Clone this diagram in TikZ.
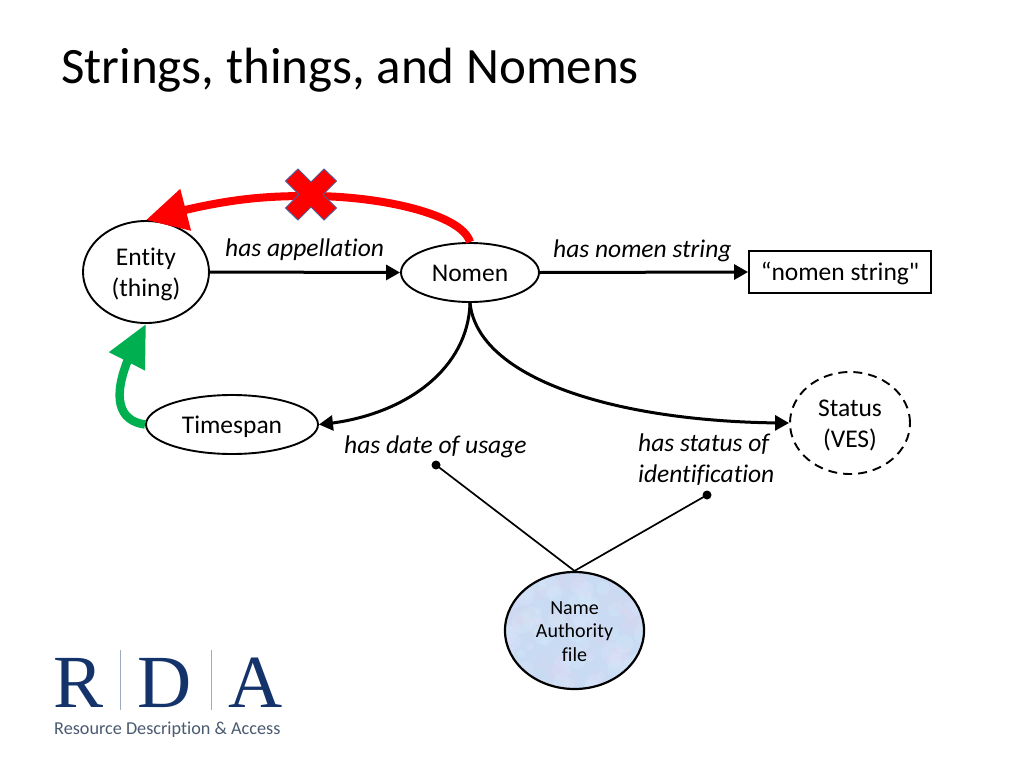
\documentclass[tikz,border=0pt]{standalone}
\usepackage{fontspec}
\setmainfont[Ligatures=NoCommon]{Carlito}
\newfontfamily\plainq[Ligatures=ResetAll]{Carlito}
\newfontfamily\logoserif{Liberation Serif}
\usetikzlibrary{arrows.meta,shapes.geometric,bending}
\definecolor{rdablue}{HTML}{14336B}
\definecolor{rdagray}{HTML}{4A5A70}
\definecolor{rdaline}{HTML}{9AAEC0}
\definecolor{xred}{HTML}{FF0000}
\definecolor{xedge}{HTML}{4F5A96}
\definecolor{gogreen}{HTML}{00B050}
\definecolor{nafbase}{HTML}{C9DBF3}
\newcommand\ctext[2]{\raisebox{#1}[0pt][0pt]{\begin{tabular}{@{}c@{}}#2\end{tabular}}}
\tikzset{
  x=1pt,y=-1pt,
  rel/.style={font=\fontsize{25.5}{30.5}\selectfont\itshape,align=left,inner sep=0,anchor=base west},
  oval/.style={ellipse,draw=black,line width=1.9pt,inner sep=0,font=\fontsize{25.5}{30.5}\selectfont},
  link/.style={draw=black,line width=3pt,-{Triangle[length=14pt,width=15pt]}},
  leader/.style={draw=black,line width=1.7pt},
  dotend/.style={circle,fill=black,inner sep=0,minimum size=9pt},
}
\begin{document}
\begin{tikzpicture}
\useasboundingbox (0,0) rectangle (1024,768);
\fill[white] (0,0) rectangle (1024,768);
\node[anchor=base west,inner sep=0,font=\fontsize{51}{60}\selectfont] (title) at (61,83) {Strings, things, and Nomens};

% Name Authority texture
\begin{scope}
\clip (574.5,630.5) ellipse [x radius=69.5, y radius=58.5];
\fill[nafbase] (505,572) rectangle (644,689);
\pgfmathsetseed{42}
\foreach \i in {1,...,130}{
  \pgfmathsetmacro{\px}{505+139*rnd}
  \pgfmathsetmacro{\py}{572+117*rnd}
  \pgfmathsetmacro{\rr}{3+8*rnd}
  \pgfmathsetmacro{\kk}{int(3*rnd)}
  \ifnum\kk=0 \def\cc{cyan!14!white}\fi
  \ifnum\kk=1 \def\cc{magenta!12!blue!14!white}\fi
  \ifnum\kk>1 \def\cc{blue!10!white}\fi
  \fill[\cc,opacity=.22] (\px,\py) circle [radius=\rr];
}
\end{scope}

\node[oval,minimum width=126pt,minimum height=102pt] (entity) at (146,272) {\ctext{-9pt}{Entity\\(thing)}};
\node[oval,minimum width=138pt,minimum height=59pt] (nomen) at (470,272.5) {\ctext{-9pt}{Nomen}};
\node[draw=black,line width=1.9pt,minimum width=182pt,minimum height=42pt,inner sep=0,font=\fontsize{25.5}{30.5}\selectfont] (string) at (840,272) {\ctext{-9pt}{“nomen string{\plainq"}}};
\node[oval,minimum width=172pt,minimum height=59pt] (timespan) at (232,424.5) {\ctext{-9pt}{Timespan}};
\node[ellipse,draw=black,line width=1.9pt,dash pattern=on 9pt off 6pt,minimum width=120pt,minimum height=102pt,inner sep=0,font=\fontsize{25.5}{30.5}\selectfont] (status) at (850,423) {\ctext{-9pt}{Status\\(VES)}};
\node[ellipse,draw=black,line width=2.2pt,minimum width=139pt,minimum height=117pt,inner sep=0,font=\fontsize{20}{23.5}\selectfont] (naf) at (574.5,630.5) {\ctext{-7.5pt}{Name\\Authority\\file}};

\node[rel] (l1) at (225,256) {has appellation};
\node[rel] (l2) at (553,257) {has nomen string};
\node[rel] (l3) at (344,453) {has date of usage};
\node[rel] (l4) at (638,482) {has status of\\identification};

\path[link] (entity.east) -- (nomen.west);
\path[link] (nomen.east) -- (string.west);
\path[link] (nomen.south) .. controls (468,372) and (400,418) .. (timespan.east);
\path[link] (nomen.south) .. controls (478,380) and (620,423) .. (status.west);

\draw[xred,line width=8pt,-{Triangle[length=41pt,width=41pt]}]
  (nomen.north) .. controls (462,214) and (380,196) .. (311,196)
  .. controls (265,196) and (225,198) .. (entity.north);
\draw[gogreen,line width=8.5pt,-{Triangle[length=42pt,width=38pt]}]
  (timespan.west) .. controls (112,420) and (110,385) .. (entity.south);

% red cross
\filldraw[fill=xred,draw=xedge,line width=1pt,line join=miter]
  (298,169) -- (311,182) -- (324,169) -- (336.5,181) -- (323,194.5) -- (336.5,208) -- (324,220) -- (311,207) -- (298,220) -- (285.5,208) -- (299,194.5) -- (285.5,181) -- cycle;

\node[dotend] (d1) at (436,465) {};
\node[dotend] (d2) at (707,495) {};
\path[leader] (naf.north) -- (d1.center);
\path[leader] (naf.north) -- (d2.center);

% logo
\node[anchor=base,inner sep=0,text=rdablue,font=\logoserif\fontsize{75}{75}\selectfont] (logoR) at (79,707) {R};
\node[anchor=base,inner sep=0,text=rdablue,font=\logoserif\fontsize{75}{75}\selectfont] (logoD) at (165,707) {D};
\node[anchor=base,inner sep=0,text=rdablue,font=\logoserif\fontsize{75}{75}\selectfont] (logoA) at (256,707) {A};
\draw[rdaline,line width=.8pt] (120,650) -- (120,710);
\draw[rdaline,line width=.8pt] (211,650) -- (211,710);
\node[anchor=base west,inner sep=0,text=rdagray,font=\fontsize{18.2}{20}\selectfont] (logotext) at (54,734) {Resource Description \& Access};
\end{tikzpicture}
\end{document}
